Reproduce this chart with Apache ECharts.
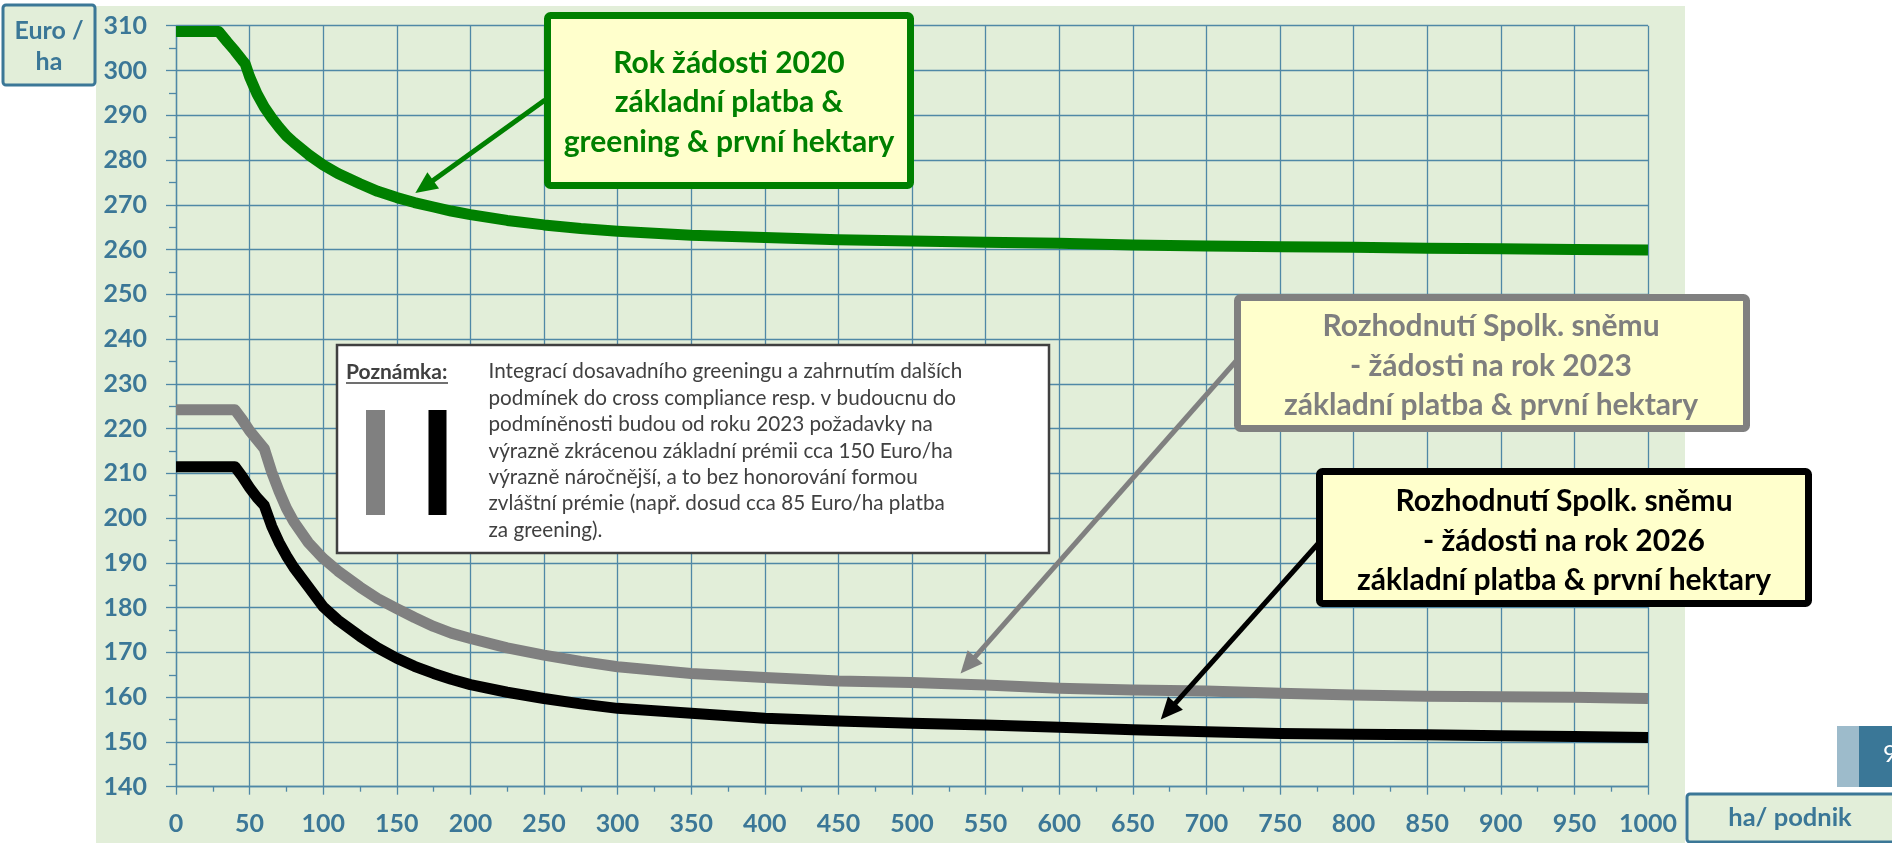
<!DOCTYPE html>
<html>
<head>
<meta charset="utf-8">
<title>Euro/ha podle velikosti podniku</title>
<script src="https://cdn.jsdelivr.net/npm/echarts/dist/echarts.min.js"></script>
<style>
  html, body { margin: 0; padding: 0; background: #ffffff; }
  #chart { width: 1892px; height: 843px; }
</style>
</head>
<body>
<div id="chart"></div>
<script>
// ---------- DATA ----------
const hectares = [0, 10, 20, 29, 35, 40, 45, 47, 50, 55, 60, 65, 70, 75, 80, 90, 100, 110, 125, 137, 150, 162, 175, 187, 200, 225, 250, 275, 300, 350, 400, 450, 500, 550, 600, 650, 700, 750, 800, 850, 900, 950, 1000];
const green2020 = [308.7, 308.7, 308.7, 308.7, 306.3, 304.4, 302.3, 301.5, 298.6, 294.8, 291.8, 289.4, 287.3, 285.4, 283.9, 281.2, 278.9, 277.0, 274.7, 273.0, 271.6, 270.5, 269.5, 268.6, 267.8, 266.5, 265.5, 264.7, 264.1, 263.2, 262.7, 262.2, 261.9, 261.6, 261.4, 261.0, 260.8, 260.6, 260.5, 260.3, 260.2, 260.0, 259.9];
const grey2023 = [224.2, 224.2, 224.2, 224.2, 224.2, 224.2, 222.0, 221.0, 219.5, 217.5, 215.5, 210.3, 206.0, 202.2, 199.2, 194.5, 191.0, 188.2, 184.6, 182.0, 179.8, 177.8, 175.8, 174.3, 173.1, 171.0, 169.4, 168.0, 166.8, 165.3, 164.4, 163.6, 163.3, 162.7, 162.0, 161.6, 161.4, 160.9, 160.5, 160.2, 160.1, 160.0, 159.7];
const black2026 = [211.5, 211.5, 211.5, 211.5, 211.5, 211.5, 209.3, 208.3, 206.8, 204.6, 202.8, 198.2, 194.6, 191.6, 189.0, 184.6, 180.2, 177.2, 173.6, 171.0, 168.7, 166.9, 165.3, 164.0, 162.8, 161.1, 159.7, 158.5, 157.5, 156.4, 155.3, 154.7, 154.2, 153.8, 153.3, 152.7, 152.3, 151.9, 151.7, 151.6, 151.4, 151.2, 151.0];

const xMin = 0, xMax = 1000, xStep = 50;
const yMin = 140, yMax = 310, yStep = 10;

const yAxisTitle = 'Euro /\nha';
const xAxisTitle = 'ha/ podnik';
const labelGreen = 'Rok žádosti 2020\nzákladní platba &\ngreening & první hektary';
const labelGrey = 'Rozhodnutí Spolk. sněmu\n- žádosti na rok 2023\nzákladní platba & první hektary';
const labelBlack = 'Rozhodnutí Spolk. sněmu\n- žádosti na rok 2026\nzákladní platba & první hektary';
const noteTitle = 'Poznámka:';
const noteLines = [
  'Integrací dosavadního greeningu a zahrnutím dalších',
  'podmínek do cross compliance resp. v budoucnu do',
  'podmíněnosti budou od roku 2023 požadavky na',
  'výrazně zkrácenou základní prémii cca 150 Euro/ha',
  'výrazně náročnější, a to bez honorování formou',
  'zvláštní prémie (např. dosud cca 85 Euro/ha platba',
  'za greening).'
];
// arrow tips (data coordinates: ha, Euro/ha)
const tipGreen = [162.6, 272.6];
const tipGrey = [533, 165.3];
const tipBlack = [669, 155.0];

// ---------- STYLE ----------
const FONT = 'Lato, "Open Sans", sans-serif';
const AXIS_BLUE = '#3B7797';
const GRID_BLUE = '#4F88A6';
const BG_GREEN = '#E2EED9';
const YELLOW = '#FFFFCC';
const C_GREEN = '#008000';
const C_GREY = '#808080';
const C_BLACK = '#000000';

function pairs(ys) { return hectares.map((h, i) => [h, ys[i]]); }

const chart = echarts.init(document.getElementById('chart'), null, { renderer: 'canvas' });

const lineSeries = (name, ys, color) => ({
  name, type: 'line', data: pairs(ys), showSymbol: false, symbol: 'none',
  smooth: false, z: 5,
  lineStyle: { color, width: 11, cap: 'butt', join: 'round' },
  emphasis: { disabled: true }, animation: false
});

chart.setOption({
  animation: false,
  backgroundColor: '#ffffff',
  grid: { left: 176, top: 25.7, width: 1472, height: 761, containLabel: false },
  xAxis: {
    type: 'value', min: xMin, max: xMax, interval: xStep,
    axisLine: { show: true, lineStyle: { color: GRID_BLUE, width: 1.3 } },
    axisTick: { show: true, length: 8, lineStyle: { color: GRID_BLUE, width: 1.3 } },
    minorTick: { show: true, splitNumber: 2, length: 5, lineStyle: { color: GRID_BLUE, width: 1.3 } },
    splitLine: { show: true, lineStyle: { color: GRID_BLUE, width: 1.3 } },
    axisLabel: { color: AXIS_BLUE, fontFamily: FONT, fontWeight: 'bold', fontSize: 25, margin: 25,
      showMinLabel: true, showMaxLabel: true, formatter: v => String(v) }
  },
  yAxis: {
    type: 'value', min: yMin, max: yMax, interval: yStep,
    axisLine: { show: true, lineStyle: { color: GRID_BLUE, width: 1.3 } },
    axisTick: { show: true, length: 10, lineStyle: { color: GRID_BLUE, width: 1.3 } },
    minorTick: { show: true, splitNumber: 2, length: 7, lineStyle: { color: GRID_BLUE, width: 1.3 } },
    splitLine: { show: true, lineStyle: { color: GRID_BLUE, width: 1.3 } },
    axisLabel: { color: AXIS_BLUE, fontFamily: FONT, fontWeight: 'bold', fontSize: 25, margin: 29, formatter: v => String(v) }
  },
  series: [
    lineSeries('Rok žádosti 2020', green2020, C_GREEN),
    lineSeries('Rozhodnutí Spolk. sněmu 2023', grey2023, C_GREY),
    lineSeries('Rozhodnutí Spolk. sněmu 2026', black2026, C_BLACK)
  ]
});

function arrow(start, tip, color, shaft, headLen, headW) {
  const dx = tip[0] - start[0], dy = tip[1] - start[1];
  const len = Math.sqrt(dx * dx + dy * dy);
  const ux = dx / len, uy = dy / len;
  const bx = tip[0] - ux * headLen, by = tip[1] - uy * headLen;
  const px = -uy, py = ux;
  return [
    { type: 'line', z: 50, shape: { x1: start[0], y1: start[1], x2: bx + ux * 2, y2: by + uy * 2 },
      style: { stroke: color, lineWidth: shaft, lineCap: 'butt' } },
    { type: 'polygon', z: 50, shape: { points: [tip, [bx + px * headW / 2, by + py * headW / 2], [bx - px * headW / 2, by - py * headW / 2]] },
      style: { fill: color } }
  ];
}

function textBox(x, y, w, h, stroke, lw, text, color, cx, cy) {
  return [
    { type: 'rect', z: 60, shape: { x, y, width: w, height: h, r: 3 },
      style: { fill: YELLOW, stroke, lineWidth: lw } },
    { type: 'text', z: 61, style: { text, x: cx, y: cy, fill: color,
      fontFamily: FONT, fontWeight: 'bold', fontSize: 30, align: 'center', verticalAlign: 'middle', lineHeight: 39.5 } }
  ];
}

const tG = chart.convertToPixel({ gridIndex: 0 }, tipGreen);
const tGr = chart.convertToPixel({ gridIndex: 0 }, tipGrey);
const tB = chart.convertToPixel({ gridIndex: 0 }, tipBlack);

const elements = [];
// light green slide panel behind the plot
elements.push({ type: 'rect', z: -100, silent: true, shape: { x: 96, y: 6, width: 1589, height: 837 }, style: { fill: BG_GREEN } });
// axis title boxes
elements.push({ type: 'rect', z: 40, shape: { x: 3, y: 5, width: 92, height: 80, r: 3 }, style: { fill: BG_GREEN, stroke: AXIS_BLUE, lineWidth: 3 } });
elements.push({ type: 'text', z: 41, style: { text: yAxisTitle, x: 49, y: 46, fill: AXIS_BLUE, fontFamily: FONT, fontWeight: 'bold', fontSize: 25, align: 'center', verticalAlign: 'middle', lineHeight: 31 } });
elements.push({ type: 'rect', z: 40, shape: { x: 1687, y: 794, width: 230, height: 48, r: 3 }, style: { fill: BG_GREEN, stroke: AXIS_BLUE, lineWidth: 3 } });
elements.push({ type: 'text', z: 41, style: { text: xAxisTitle, x: 1790, y: 818, fill: AXIS_BLUE, fontFamily: FONT, fontWeight: 'bold', fontSize: 25.5, align: 'center', verticalAlign: 'middle' } });
// slide page number tab
elements.push({ type: 'rect', z: 40, shape: { x: 1837, y: 726, width: 22, height: 61 }, style: { fill: '#9DBBCB' } });
elements.push({ type: 'rect', z: 40, shape: { x: 1859, y: 726, width: 33, height: 61 }, style: { fill: '#3A7797' } });
elements.push({ type: 'text', z: 41, style: { text: '9', x: 1883, y: 754, fill: '#ffffff', fontFamily: FONT, fontSize: 24, align: 'left', verticalAlign: 'middle' } });

// note box
elements.push({ type: 'rect', z: 40, shape: { x: 337, y: 345, width: 712, height: 208 }, style: { fill: '#ffffff', stroke: '#404040', lineWidth: 2.5 } });
elements.push({ type: 'text', z: 41, style: { text: noteTitle, x: 346, y: 372, fill: '#404040', fontFamily: FONT, fontWeight: 'bold', fontSize: 21, align: 'left', verticalAlign: 'middle' } });
elements.push({ type: 'line', z: 41, shape: { x1: 346, y1: 383, x2: 448, y2: 383 }, style: { stroke: '#404040', lineWidth: 1.6 } });
elements.push({ type: 'text', z: 41, style: { text: noteLines.join('\n'), x: 488.5, y: 358.5, fill: '#404040', fontFamily: FONT, fontSize: 20.7, align: 'left', verticalAlign: 'top', lineHeight: 26.4 } });
elements.push({ type: 'rect', z: 41, shape: { x: 366, y: 410, width: 19, height: 105 }, style: { fill: C_GREY } });
elements.push({ type: 'rect', z: 41, shape: { x: 428.5, y: 410, width: 18, height: 105 }, style: { fill: C_BLACK } });

// arrows
elements.push(...arrow([545, 100], tG, C_GREEN, 5, 22, 20));
elements.push(...arrow([1237, 360], tGr, C_GREY, 5, 22, 20));
elements.push(...arrow([1324, 537], tB, C_BLACK, 5, 22, 20));

// annotation boxes
elements.push(...textBox(547.5, 15.5, 363, 170, C_GREEN, 7, labelGreen, C_GREEN, 729, 102.5));
elements.push(...textBox(1237.5, 297.5, 509, 131, C_GREY, 7, labelGrey, '#7F7F7F', 1491, 366));
elements.push(...textBox(1319.5, 471.5, 489, 132, C_BLACK, 7, labelBlack, C_BLACK, 1564, 541));

chart.setOption({ graphic: { elements } });
</script>
</body>
</html>
